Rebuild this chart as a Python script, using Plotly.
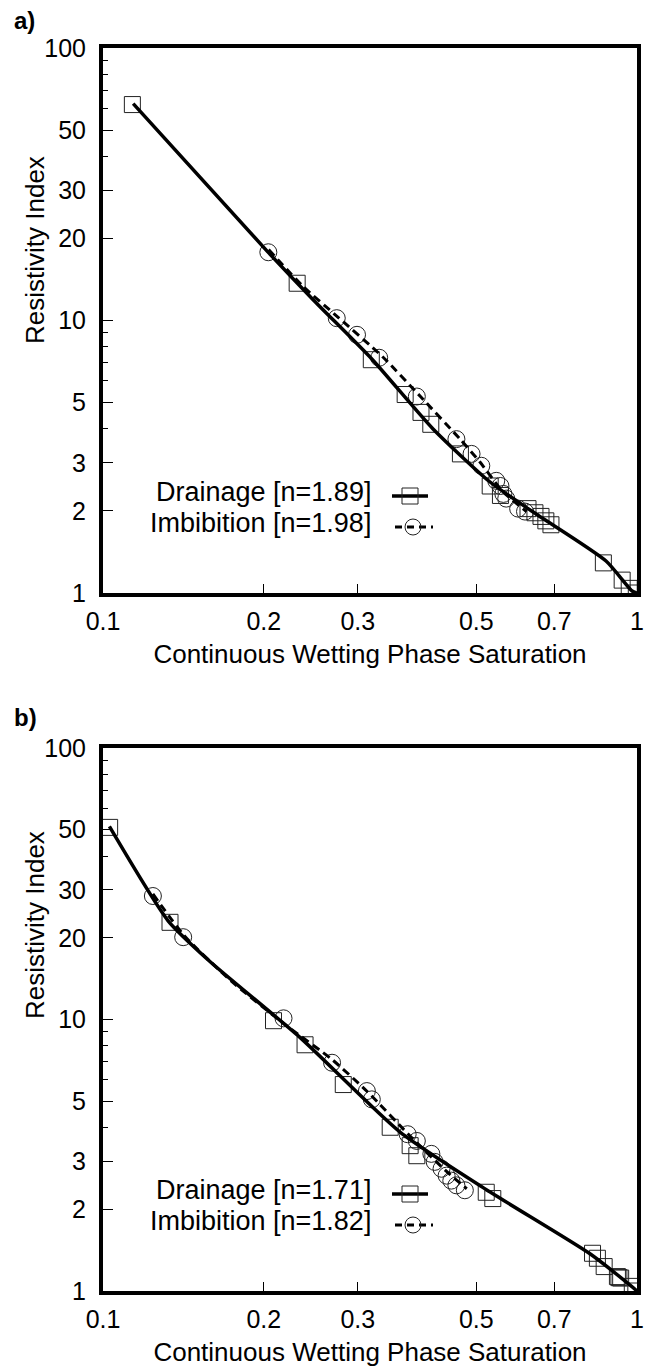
import plotly.graph_objects as go

# ---------------- data ----------------
# Panel a) measured points
a_drain_S = [0.1135, 0.231, 0.318, 0.368, 0.394, 0.411, 0.467, 0.531, 0.555,
             0.625, 0.644, 0.661, 0.675, 0.690, 0.865, 0.938, 0.967, 0.997]
a_drain_RI = [62.0, 13.7, 7.18, 5.35, 4.60, 4.16, 3.24, 2.47, 2.28,
              2.04, 1.97, 1.91, 1.84, 1.78, 1.29, 1.115, 1.04, 1.0]
a_imb_S = [0.204, 0.274, 0.299, 0.329, 0.387, 0.459, 0.490, 0.511, 0.545,
           0.555, 0.562, 0.569, 0.599, 0.617]
a_imb_RI = [17.8, 10.2, 8.86, 7.3, 5.26, 3.67, 3.24, 2.93, 2.58,
            2.47, 2.31, 2.22, 2.04, 1.99]
# Panel a) fitted curves (read along the drawn lines)
a_drain_fit_S = [0.1139, 0.2033, 0.2477, 0.319, 0.415, 0.53, 0.637, 0.875, 0.979, 1.0]
a_drain_fit_RI = [62.5, 17.9, 11.9, 7.21, 4.0, 2.56, 1.99, 1.31, 1.017, 1.0]
a_imb_fit_S = [0.2042, 0.2373, 0.2746, 0.3346, 0.3923, 0.4657, 0.5076, 0.5602, 0.621]
a_imb_fit_RI = [18.2, 13.3, 10.34, 7.33, 5.28, 3.68, 3.03, 2.36, 1.99]

# Panel b) measured points
b_drain_S = [0.1029, 0.1335, 0.2086, 0.239, 0.2818, 0.345, 0.376, 0.387, 0.522,
             0.537, 0.8255, 0.843, 0.868, 0.919, 0.925, 0.932, 0.98, 0.995]
b_drain_RI = [51.0, 22.8, 9.9, 8.07, 5.76, 4.01, 3.43, 3.15, 2.31,
              2.19, 1.377, 1.32, 1.23, 1.13, 1.12, 1.116, 1.04, 1.0]
b_imb_S = [0.124, 0.1413, 0.2178, 0.2685, 0.312, 0.3187, 0.372, 0.387, 0.412,
           0.418, 0.4305, 0.44, 0.449, 0.459, 0.476]
b_imb_RI = [28.5, 20.1, 10.1, 6.93, 5.45, 5.08, 3.78, 3.57, 3.20,
            2.99, 2.82, 2.66, 2.55, 2.45, 2.35]
# Panel b) fitted curves
b_drain_fit_S = [0.1028, 0.1324, 0.1578, 0.2343, 0.36, 0.53, 0.814, 0.977, 1.0]
b_drain_fit_RI = [51.4, 23.1, 16.5, 8.56, 3.85, 2.32, 1.377, 1.04, 1.0]
b_imb_fit_S = [0.124, 0.1418, 0.1735, 0.2197, 0.2688, 0.3124, 0.3806, 0.4405, 0.48]
b_imb_fit_RI = [29.0, 20.4, 13.9, 9.55, 7.11, 5.43, 3.63, 2.75, 2.38]

x_tickvals = [0.1, 0.2, 0.3, 0.5, 0.7, 1]
x_ticktext = ["0.1", "0.2", "0.3", "0.5", "0.7", "1"]
y_tickvals = [1, 2, 3, 5, 10, 20, 30, 50, 100]
y_ticktext = ["1", "2", "3", "5", "10", "20", "30", "50", "100"]
y_minorvals = [4, 6, 7, 8, 9, 40, 60, 70, 80, 90]

panel_labels = ["a)", "b)"]
legend_a = ["Drainage [n=1.89]", "Imbibition [n=1.98]"]
legend_b = ["Drainage [n=1.71]", "Imbibition [n=1.82]"]
x_title = "Continuous Wetting Phase Saturation"
y_title = "Resistivity Index"

# ---------------- layout geometry ----------------
W, H = 652, 1368
ML, MR, MT, MB = 103, 15, 48, 77
PW = W - ML - MR
PH = H - MT - MB
A_TOP, A_BOT = 48, 593
B_TOP, B_BOT = 748, 1291


def px(x):
    return (x - ML) / PW


def py(y):
    return (H - MB - y) / PH


FONT = "Liberation Sans, Arial, Helvetica, sans-serif"
MK_COLOR = "#222222"

fig = go.Figure()


def add_panel(xa, ya, dS, dR, iS, iR, dfS, dfR, ifS, ifR):
    fig.add_trace(go.Scatter(x=dS, y=dR, mode="markers", xaxis=xa, yaxis=ya,
                             marker=dict(symbol="square-open", size=16,
                                         color=MK_COLOR, line=dict(width=1, color=MK_COLOR)),
                             showlegend=False, hoverinfo="skip"))
    fig.add_trace(go.Scatter(x=iS, y=iR, mode="markers", xaxis=xa, yaxis=ya,
                             marker=dict(symbol="circle-open", size=17,
                                         color=MK_COLOR, line=dict(width=1, color=MK_COLOR)),
                             showlegend=False, hoverinfo="skip"))
    fig.add_trace(go.Scatter(x=dfS, y=dfR, mode="lines", xaxis=xa, yaxis=ya,
                             line=dict(color="black", width=3.5, shape="spline", smoothing=0.6),
                             showlegend=False, hoverinfo="skip"))
    fig.add_trace(go.Scatter(x=ifS, y=ifR, mode="lines", xaxis=xa, yaxis=ya,
                             line=dict(color="black", width=3, dash="8px,5px",
                                       shape="spline", smoothing=0.6),
                             showlegend=False, hoverinfo="skip"))


add_panel("x", "y", a_drain_S, a_drain_RI, a_imb_S, a_imb_RI,
          a_drain_fit_S, a_drain_fit_RI, a_imb_fit_S, a_imb_fit_RI)
add_panel("x2", "y2", b_drain_S, b_drain_RI, b_imb_S, b_imb_RI,
          b_drain_fit_S, b_drain_fit_RI, b_imb_fit_S, b_imb_fit_RI)


def xaxis_cfg(anchor):
    return dict(type="log", range=[-1, 0], domain=[0, 1], anchor=anchor,
                tickvals=x_tickvals, ticktext=x_ticktext,
                ticks="inside", ticklen=9, tickwidth=1, tickcolor="black",
                showline=True, linewidth=4, linecolor="black", mirror=True,
                showgrid=False, zeroline=False,
                tickfont=dict(family=FONT, size=25, color="black"),
                ticklabelstandoff=3,
                title=dict(text=x_title, font=dict(family=FONT, size=26, color="black"),
                           standoff=12),
                automargin=False)


def yaxis_cfg(anchor, domain):
    return dict(type="log", range=[0, 2], domain=domain, anchor=anchor,
                tickvals=y_tickvals, ticktext=y_ticktext,
                ticks="inside", ticklen=10, tickwidth=1, tickcolor="black",
                minor=dict(tickvals=y_minorvals, ticks="inside", ticklen=5,
                           tickwidth=1, tickcolor="black", showgrid=False),
                showline=True, linewidth=4, linecolor="black", mirror=True,
                showgrid=False, zeroline=False,
                tickfont=dict(family=FONT, size=25, color="black"),
                ticklabelstandoff=8,
                automargin=False)


fig.update_layout(
    width=W, height=H,
    margin=dict(l=ML, r=MR, t=MT, b=MB),
    paper_bgcolor="white", plot_bgcolor="white",
    font=dict(family=FONT, color="black"),
    showlegend=False,
    hovermode=False,
    xaxis=xaxis_cfg("y"),
    yaxis=yaxis_cfg("x", [py(A_BOT), py(A_TOP)]),
    xaxis2=xaxis_cfg("y2"),
    yaxis2=yaxis_cfg("x2", [py(B_BOT), py(B_TOP)]),
)

annotations = []
shapes = []

# panel labels
for lab, ypix in zip(panel_labels, [21, 718]):
    annotations.append(dict(text="<b>%s</b>" % lab, xref="paper", yref="paper",
                            x=px(12), y=py(ypix), xanchor="left", yanchor="middle",
                            showarrow=False, font=dict(family=FONT, size=24, color="black")))

# y-axis titles (rotated)
for ypix in [250, 925]:
    annotations.append(dict(text=y_title, xref="paper", yref="paper",
                            x=px(35), y=py(ypix), xanchor="center", yanchor="middle",
                            textangle=-90, showarrow=False,
                            font=dict(family=FONT, size=26, color="black")))

# manual legends (text right-aligned, sample to the right)
for labels, row1 in [(legend_a, 492), (legend_b, 1190)]:
    for i, lab in enumerate(labels):
        ty = row1 + i * 31
        annotations.append(dict(text=lab, xref="paper", yref="paper",
                                x=px(373), y=py(ty), xanchor="right", yanchor="middle",
                                showarrow=False,
                                font=dict(family=FONT, size=27, color="black")))
        sy = ty + 4
        if i == 0:
            shapes.append(dict(type="line", xref="paper", yref="paper",
                               x0=px(392), x1=px(428), y0=py(sy), y1=py(sy),
                               line=dict(color="black", width=3.5)))
            shapes.append(dict(type="rect", xref="paper", yref="paper",
                               x0=px(402), x1=px(418), y0=py(sy - 8), y1=py(sy + 8),
                               line=dict(color=MK_COLOR, width=1)))
        else:
            shapes.append(dict(type="line", xref="paper", yref="paper",
                               x0=px(395), x1=px(433), y0=py(sy), y1=py(sy),
                               line=dict(color="black", width=3, dash="7px,5px")))
            shapes.append(dict(type="circle", xref="paper", yref="paper",
                               x0=px(405), x1=px(421), y0=py(sy - 8), y1=py(sy + 8),
                               line=dict(color=MK_COLOR, width=1)))

fig.update_layout(annotations=annotations, shapes=shapes)

fig.write_html("out.html", config={"displayModeBar": False},
               post_script="document.body.style.margin='0px';")
